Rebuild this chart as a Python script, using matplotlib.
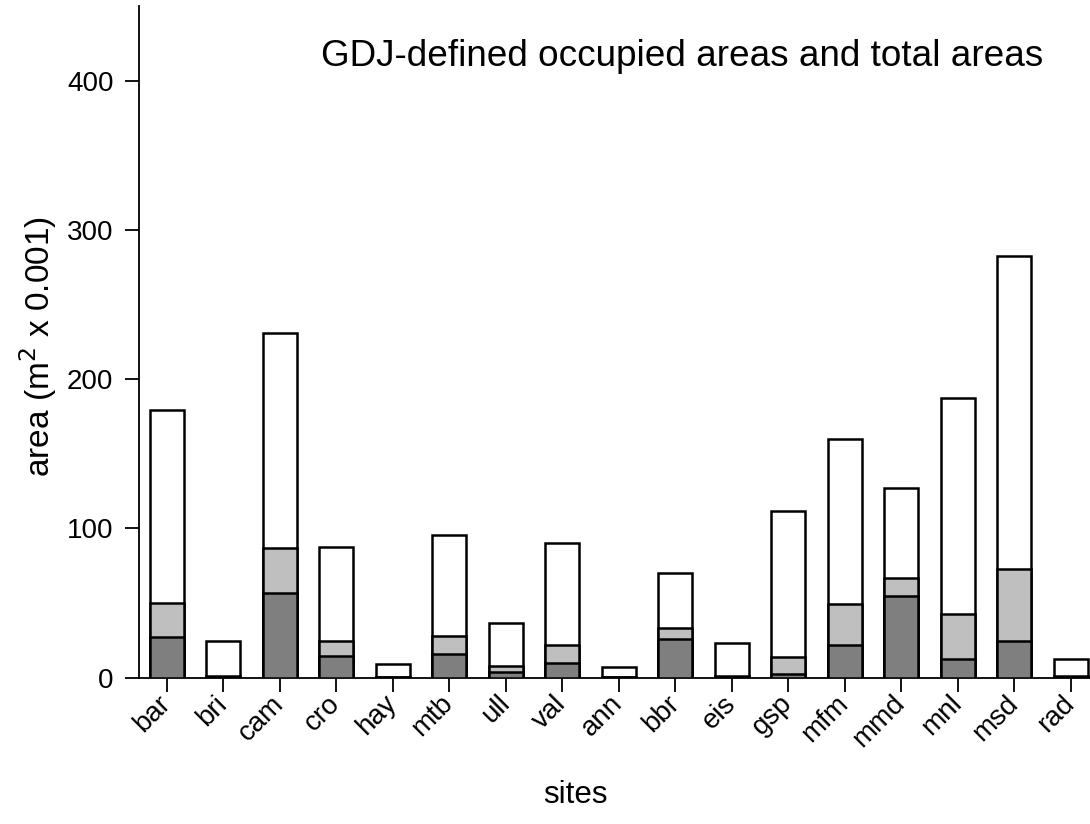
import numpy as np
import matplotlib
matplotlib.use("Agg")
import matplotlib.pyplot as plt

plt.rcParams['font.family'] = ['Liberation Sans', 'DejaVu Sans']

# sites and areas (m^2 x 0.001)
sites = ['bar', 'bri', 'cam', 'cro', 'hay', 'mtb', 'ull', 'val', 'ann',
         'bbr', 'eis', 'gsp', 'mfm', 'mmd', 'mnl', 'msd', 'rad']
total_area = [179.3, 24.3, 230.7, 87.7, 8.8, 95.5, 36.3, 90.1, 7.3,
              69.8, 22.9, 111.6, 159.9, 127.2, 187.5, 282.7, 12.6]
occupied_wide = [49.7, 1.2, 86.6, 24.5, 0.3, 28.0, 7.7, 22.0, 0.3,
                 33.2, 1.2, 13.7, 49.3, 66.9, 42.6, 72.5, 1.0]
occupied_core = [27.1, 0.6, 56.4, 14.6, 0.1, 15.5, 3.5, 9.7, 0.1,
                 25.8, 0.5, 2.3, 22.0, 54.6, 12.2, 24.5, 0.5]

fig = plt.figure(figsize=(10.9, 8.24), dpi=100)
ax = fig.add_axes([138.5/1090, 146.5/824, (1090-138.5)/1090, (677.5-6)/824])

x = np.arange(len(sites))
w = 0.6
ax.bar(x, total_area, w, color='white', edgecolor='black', lw=1.8, zorder=1)
ax.bar(x, occupied_wide, w, color='#bfbfbf', edgecolor='black', lw=1.8, zorder=2)
ax.bar(x, occupied_core, w, color='#7f7f7f', edgecolor='black', lw=1.8, zorder=3)

ax.set_xlim(-0.5, (1090-166.7)/56.5)
ax.set_ylim(0, 450)
ax.set_yticks([0, 100, 200, 300, 400])
ax.set_xticks(x)
ax.set_xticklabels(sites, rotation=45, ha='right', va='center',
                   rotation_mode='anchor', fontsize=20)
ax.tick_params(axis='y', labelsize=20, length=10, width=1.3, pad=8)
ax.tick_params(axis='x', length=10, width=1.3, pad=6)

for s in ['top', 'right']:
    ax.spines[s].set_visible(False)
for s in ['left', 'bottom']:
    ax.spines[s].set_linewidth(1.3)

fig.text(38/1090, 1-346/824, 'area (m$^2$ x 0.001)', rotation=90,
         ha='center', va='center', fontsize=24)
fig.text(575/1090, 1-795/824, 'sites', ha='center', va='center', fontsize=22.5)
fig.text(1043/1090, 1-57/824, 'GDJ-defined occupied areas and total areas',
         ha='right', va='center', fontsize=26.6)

fig.savefig('out.png', dpi=100)
